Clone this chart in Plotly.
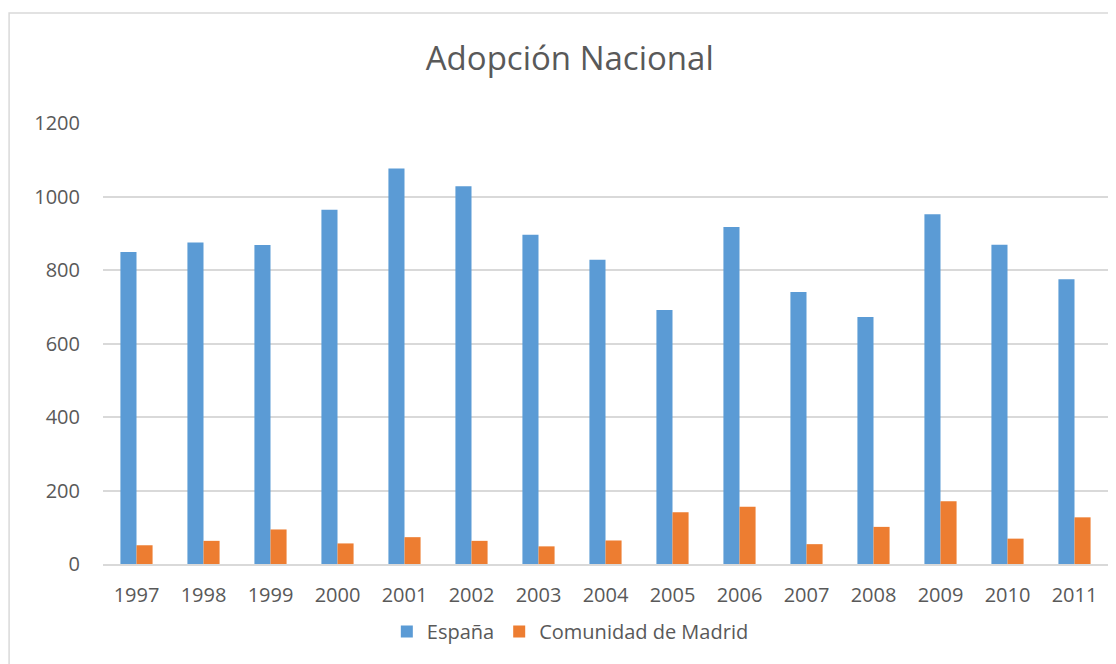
import plotly.graph_objects as go

# --- data ---
anios = ["1997", "1998", "1999", "2000", "2001", "2002", "2003", "2004",
         "2005", "2006", "2007", "2008", "2009", "2010", "2011"]
espana = [849, 875, 868, 964, 1076, 1028, 896, 828, 691, 917, 740, 672, 952, 869, 775]
madrid = [51, 63, 94, 56, 73, 63, 48, 64, 141, 156, 54, 101, 171, 69, 127]

gris_texto = "#595959"
gris_linea = "#D9D9D9"
fuente = "Open Sans"

# la pagina deja 8px de margen en el body, asi que la figura es algo menor
ANCHO, ALTO = 1108, 656

fig = go.Figure()
fig.add_trace(go.Bar(x=anios, y=espana, name="España",
                     marker=dict(color="#5B9BD5", line=dict(width=0))))
fig.add_trace(go.Bar(x=anios, y=madrid, name="Comunidad de Madrid",
                     marker=dict(color="#ED7D31", line=dict(width=0))))

# marco del grafico (solo se ven el borde superior e izquierdo)
alto_plot = 441.5
ancho_plot = 1006
fig.add_shape(type="rect", xref="paper", yref="paper",
              x0=(0.5 - 94.5) / ancho_plot, x1=1.05,
              y0=-0.4, y1=(556.5 - 5) / alto_plot,
              line=dict(color=gris_linea, width=1.5), fillcolor="rgba(0,0,0,0)",
              layer="below")

fig.update_layout(
    width=ANCHO, height=ALTO,
    margin=dict(l=94.5, r=7.5, t=115, b=99.5),
    paper_bgcolor="white", plot_bgcolor="white",
    font=dict(family=fuente, color=gris_texto),
    title=dict(text="Adopción Nacional", x=0.507, xanchor="center",
               y=1 - 50 / ALTO, yanchor="middle",
               font=dict(family=fuente, size=33, color=gris_texto)),
    barmode="group", bargap=0.52, bargroupgap=0,
    showlegend=True,
    legend=dict(orientation="h", x=0.465, xanchor="center",
                y=-0.153, yanchor="middle",
                font=dict(family=fuente, size=20, color=gris_texto)),
    xaxis=dict(showgrid=False, showline=True, linecolor=gris_linea, linewidth=1.5,
               ticks="", ticklabelstandoff=12,
               tickfont=dict(size=20, color=gris_texto)),
    yaxis=dict(range=[0, 1200], dtick=200, showgrid=True, gridcolor=gris_linea,
               gridwidth=1.5, zeroline=False, showline=False, ticks="",
               ticklabelstandoff=22,
               tickfont=dict(size=20, color=gris_texto)),
)

fig.write_html("out.html")
